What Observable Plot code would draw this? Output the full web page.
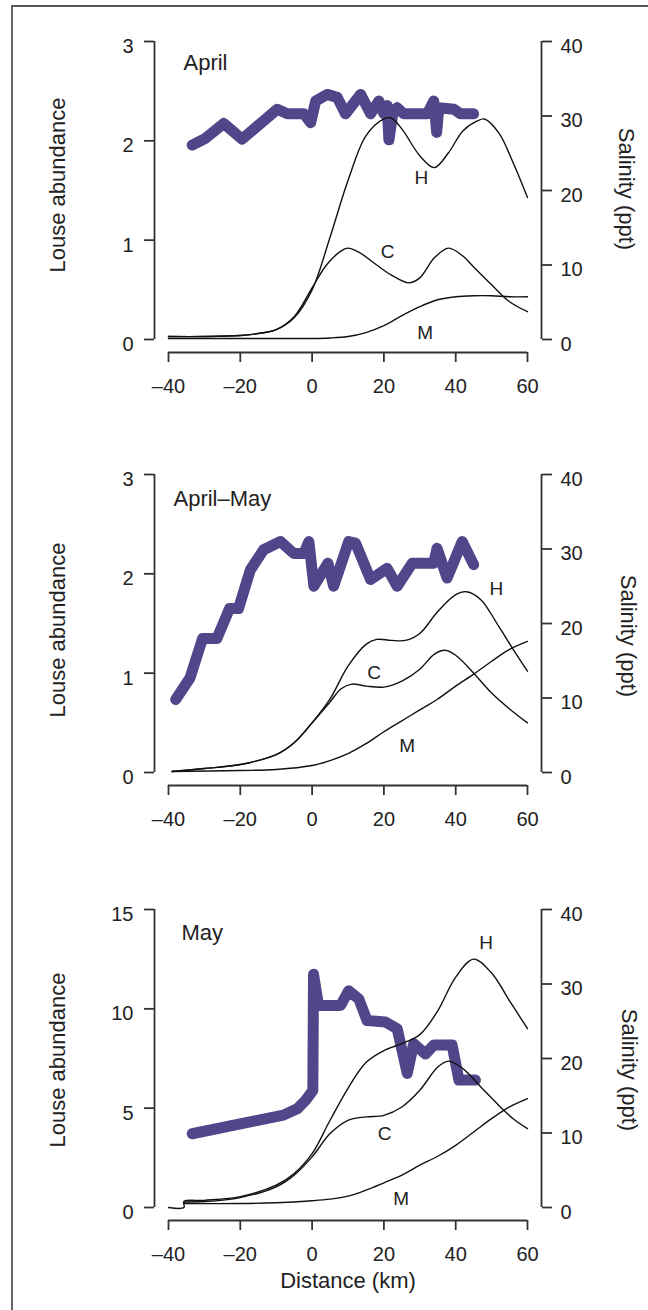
<!DOCTYPE html>
<html><head><meta charset="utf-8">
<script src="https://cdn.jsdelivr.net/npm/d3@7"></script>
<script src="https://cdn.jsdelivr.net/npm/@observablehq/plot@0.6"></script>
<style>
html,body{margin:0;padding:0;background:#fff;}
body{width:648px;height:1310px;overflow:hidden;position:relative;font-family:"Liberation Sans",Arial,sans-serif;}
#frame{position:absolute;left:11px;top:5px;width:700px;height:1400px;border-top:2px solid #555;border-left:2px solid #666;}
.panel{position:absolute;left:0;width:648px;}
</style></head><body>
<div id="frame"></div>
<script>
// shared ticks
const distTicks = [-40, -20, 0, 20, 40, 60];
const salTicks = [0, 10, 20, 30, 40];
const louseTicksSmall = [0, 1, 2, 3];
const louseTicksMay = [0, 5, 10, 15];
const curveNames = ["H", "C", "M"];

// ---- April ----
const aprH = [[-40,0.03],[-30,0.03],[-20,0.04],[-15,0.06],[-10,0.1],[-5,0.22],[0,0.5],[5,1.03],[10,1.6],[15,2.05],[20,2.22],[22,2.23],[25,2.12],[30,1.85],[34,1.73],[38,1.88],[42,2.1],[46,2.2],[48,2.22],[52,2.08],[56,1.78],[60,1.43]];
const aprC = [[-40,0.03],[-30,0.03],[-20,0.04],[-15,0.06],[-10,0.1],[-5,0.23],[0,0.52],[4,0.75],[8,0.89],[10,0.92],[13,0.88],[18,0.75],[22,0.65],[27,0.57],[30,0.62],[34,0.82],[38,0.92],[42,0.84],[45,0.73],[50,0.55],[55,0.38],[60,0.28]];
const aprM = [[-40,0.01],[-20,0.01],[0,0.01],[5,0.015],[10,0.03],[15,0.07],[20,0.14],[25,0.24],[30,0.33],[35,0.4],[40,0.43],[45,0.44],[50,0.44],[55,0.43],[60,0.43]];
const aprSal = [[-33.4,26.1],[-29.7,27.0],[-24.6,29.0],[-19.5,26.9],[-9.7,30.9],[-6.9,30.3],[-2.3,30.3],[-0.4,29.1],[1.0,32.0],[4.2,32.9],[7.0,32.5],[9.3,30.3],[13.5,32.9],[16.3,30.3],[18.6,32.0],[20.0,30.3],[20.9,31.4],[21.4,26.8],[22.6,30.7],[23.7,31.1],[25.5,30.3],[32.1,30.3],[33.9,32.0],[34.7,27.8],[35.3,31.1],[39.5,30.9],[41.3,30.3],[45.0,30.3]];
const aprLabels = [{t:"H",x:30.4,y:1.63},{t:"C",x:21.0,y:0.88},{t:"M",x:31.5,y:0.07}];

// ---- April–May ----
const amH = [[-39,0.01],[-30,0.04],[-20,0.08],[-10,0.18],[-5,0.3],[0,0.5],[5,0.74],[10,1.07],[15,1.29],[18,1.34],[22,1.33],[26,1.33],[30,1.4],[35,1.62],[40,1.79],[43,1.82],[47,1.74],[52,1.47],[56,1.24],[60,1.02]];
const amC = [[-39,0.01],[-30,0.04],[-20,0.08],[-10,0.18],[-5,0.3],[0,0.5],[5,0.71],[8,0.84],[11,0.89],[15,0.87],[20,0.86],[25,0.92],[30,1.04],[34,1.19],[37,1.23],[40,1.18],[45,1.0],[50,0.8],[55,0.64],[60,0.5]];
const amM = [[-39,0.01],[-20,0.02],[-10,0.03],[0,0.07],[5,0.12],[10,0.19],[15,0.29],[20,0.41],[25,0.52],[30,0.63],[35,0.74],[40,0.87],[45,0.99],[50,1.12],[55,1.24],[60,1.32]];
const amSal = [[-38.0,9.8],[-34.0,12.7],[-30.5,18.0],[-26.5,18.0],[-23.0,22.0],[-20.5,22.0],[-17.2,27.2],[-13.5,29.9],[-8.8,31.0],[-5.1,29.4],[-2.3,29.4],[-0.9,31.0],[0.5,25.0],[4.4,28.1],[6.0,25.0],[10.2,31.0],[12.1,30.8],[16.3,25.9],[20.9,27.4],[23.7,25.0],[27.9,28.1],[33.9,28.1],[34.8,30.1],[37.6,26.1],[41.8,31.0],[45.0,27.9]];
const amLabels = [{t:"H",x:51.3,y:1.85},{t:"C",x:17.3,y:1.0},{t:"M",x:26.5,y:0.27}];

// ---- May ----
const mayH = [[-40,0],[-35.7,0],[-35.7,0.3],[-30,0.36],[-20,0.55],[-10,1.12],[-5,1.71],[0,2.71],[5,4.39],[10,6.0],[15,7.3],[20,7.9],[25,8.25],[30,8.7],[35,9.9],[40,11.6],[45,12.5],[50,11.8],[55,10.4],[60,9.0]];
const mayC = [[-35.7,0.28],[-30,0.3],[-20,0.5],[-10,1.04],[-5,1.63],[0,2.55],[5,3.72],[10,4.39],[15,4.56],[20,4.64],[25,5.06],[30,5.9],[35,7.07],[38,7.37],[42,6.99],[47,6.07],[52,5.14],[56,4.47],[60,3.97]];
const mayM = [[-35.7,0.2],[-20,0.2],[-10,0.24],[0,0.34],[5,0.42],[10,0.57],[15,0.87],[20,1.24],[25,1.63],[30,2.13],[35,2.58],[40,3.13],[45,3.8],[50,4.47],[55,5.06],[60,5.48]];
const maySal = [[-33.4,9.9],[-8,12.4],[-4,13.3],[-1.8,14.4],[0.2,15.7],[0.4,31.3],[1.8,27.1],[7.9,27.1],[10.2,29.1],[13.0,28.0],[15.3,25.1],[20.4,24.9],[23.7,24.0],[26.5,18.0],[28.3,22.0],[31.6,20.6],[33.9,21.8],[39.0,21.8],[40.9,17.1],[45.5,17.1]];
const mayLabels = [{t:"H",x:48.5,y:13.3},{t:"C",x:20.2,y:3.7},{t:"M",x:24.8,y:0.45}];

const purple = "#52468a";
const ink = "#222";
const axisCol = "#333";
const font = "'Liberation Sans', Arial, Helvetica, sans-serif";

function panel(cfg) {
  const k = cfg.yMax / 40;
  const pts = a => a.map(([x, y]) => ({x, y}));
  const sal = cfg.sal.map(([x, s]) => ({x, y: s * k}));
  const salPos = salTicks.map(s => s * k);
  const fmt = d => d < 0 ? "\u2013" + Math.abs(d) : String(d);
  const curves = {H: cfg.H, C: cfg.C, M: cfg.M};
  const marks = [
    Plot.line(sal, {x: "x", y: "y", stroke: purple, strokeWidth: 11, strokeLinecap: "round", strokeLinejoin: "round"}),
    ...curveNames.map(n => Plot.line(pts(curves[n]), {x: "x", y: "y", stroke: "#111", strokeWidth: 1.4, curve: "catmull-rom"})),
    Plot.text(cfg.labels, {x: "x", y: "y", text: "t", fontSize: 19, fill: ink}),
    Plot.ruleX([distTicks[0]], {y1: 0, y2: cfg.yMax, dx: -14, stroke: axisCol, strokeWidth: 1.8}),
    Plot.ruleX([distTicks[distTicks.length - 1]], {y1: 0, y2: cfg.yMax, dx: 14, stroke: axisCol, strokeWidth: 1.8}),
    Plot.ruleY([0], {x1: distTicks[0], x2: distTicks[distTicks.length - 1], dy: 13, stroke: axisCol, strokeWidth: 1.8}),
    Plot.axisY(cfg.yTicks, {anchor: "left", label: null, tickSize: 10, tickFormat: () => "", stroke: axisCol, strokeWidth: 1.8}),
    Plot.axisY(cfg.yTicks, {anchor: "left", label: null, tickSize: 0, tickPadding: 21, dy: 5, fontSize: 20, fill: ink, tickFormat: d => String(d)}),
    Plot.axisY(salPos, {anchor: "right", label: null, tickSize: 10, tickFormat: () => "", stroke: axisCol, strokeWidth: 1.8}),
    Plot.axisY(salPos, {anchor: "right", label: null, tickSize: 0, tickPadding: 19, dy: 5, fontSize: 20, fill: ink, tickFormat: d => String(Math.round(d / k))}),
    Plot.axisX(distTicks, {anchor: "bottom", label: null, tickSize: 10, tickPadding: 16, fontSize: 20, tickFormat: fmt, stroke: axisCol, strokeWidth: 1.8, fill: ink}),
    Plot.text([cfg.name], {text: d => d, frameAnchor: "top-left", dx: cfg.nameDx, dy: cfg.nameDy, textAnchor: "start", lineAnchor: "middle", fontSize: 22, fill: ink}),
    Plot.text(["Louse abundance"], {text: d => d, frameAnchor: "left", rotate: -90, dx: -96.5, dy: cfg.louseDy, textAnchor: "middle", lineAnchor: "middle", fontSize: 22, fill: ink}),
    Plot.text(["Salinity (ppt)"], {text: d => d, frameAnchor: "right", rotate: 90, dx: cfg.salDx, dy: cfg.salDy, textAnchor: "middle", lineAnchor: "middle", fontSize: 22, fill: ink})
  ];
  if (cfg.xLabel) marks.push(Plot.text([cfg.xLabel], {text: d => d, frameAnchor: "bottom", dy: 60, textAnchor: "middle", lineAnchor: "middle", fontSize: 22, fill: ink}));
  const svg = Plot.plot({
    width: 648, height: 425,
    marginTop: 30, marginBottom: 84, marginLeft: 154, marginRight: 107,
    insetLeft: 14, insetRight: 14, insetBottom: 13, insetTop: 0,
    x: {domain: [distTicks[0], distTicks[distTicks.length - 1]], axis: null},
    y: {domain: [0, cfg.yMax], axis: null},
    style: {fontFamily: font, fontSize: "20px", color: ink, background: "transparent", overflow: "visible"},
    marks
  });
  const div = document.createElement("div");
  div.className = "panel";
  div.style.top = cfg.top + "px";
  div.appendChild(svg);
  document.body.appendChild(div);
}

panel({top: 11, name: "April", yMax: 3, yTicks: louseTicksSmall, H: aprH, C: aprC, M: aprM, sal: aprSal, labels: aprLabels, nameDx: 29, nameDy: 21, louseDy: -12, salDx: 85, salDy: -8});
panel({top: 444, name: "April\u2013May", yMax: 3, yTicks: louseTicksSmall, H: amH, C: amC, M: amM, sal: amSal, labels: amLabels, nameDx: 19, nameDy: 24, louseDy: 0, salDx: 87, salDy: 6});
panel({top: 879, name: "May", yMax: 15, yTicks: louseTicksMay, H: mayH, C: mayC, M: mayM, sal: maySal, labels: mayLabels, nameDx: 27, nameDy: 23, louseDy: -5, salDx: 88, salDy: 5, xLabel: "Distance (km)"});
</script></body></html>
